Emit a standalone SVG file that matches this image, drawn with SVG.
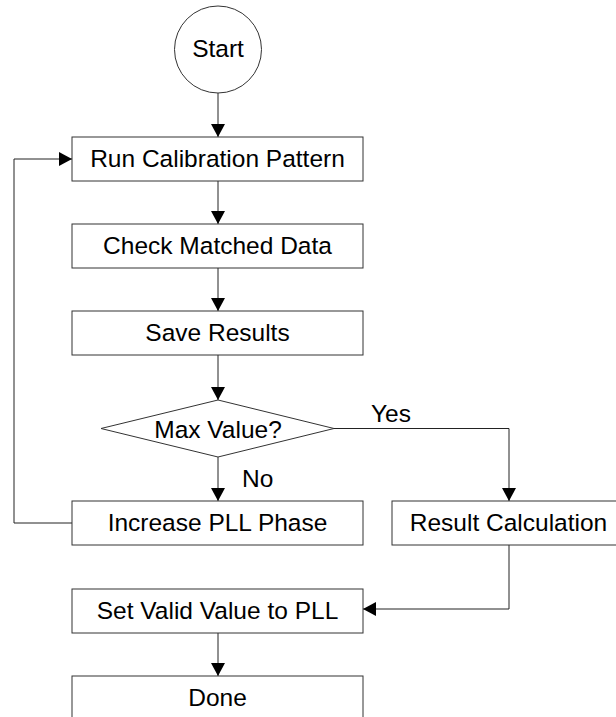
<svg xmlns="http://www.w3.org/2000/svg" width="616" height="717" viewBox="0 0 616 717">
<style>
.n{fill:#fff;stroke:#333;stroke-width:1}
.c{fill:none;stroke:#222;stroke-width:1}
text{font-family:"Liberation Sans",Arial,sans-serif;font-size:24.5px;fill:#000}
.m{text-anchor:middle}
</style>
<defs>
<marker id="ah" markerUnits="userSpaceOnUse" markerWidth="14" markerHeight="15" refX="13" refY="7" orient="auto">
<path d="M0,0 L13,7 L0,14 z" fill="#000"/>
</marker>
</defs>
<rect width="616" height="717" fill="#fff"/>
<g id="connectors">
<path class="c" d="M218,93 V137" marker-end="url(#ah)"/>
<path class="c" d="M218,181 V224" marker-end="url(#ah)"/>
<path class="c" d="M218,268 V311" marker-end="url(#ah)"/>
<path class="c" d="M218,355 V400" marker-end="url(#ah)"/>
<path class="c" d="M218,457 V501" marker-end="url(#ah)"/>
<path class="c" d="M334,428.5 H509 V501" marker-end="url(#ah)"/>
<path class="c" d="M72,523 H14 V159 H72" marker-end="url(#ah)"/>
<path class="c" d="M509,545 V609 H363" marker-end="url(#ah)"/>
<path class="c" d="M218,633 V676" marker-end="url(#ah)"/>
<text x="371" y="422">Yes</text>
<text x="242" y="487">No</text>
</g>
<g id="start">
<circle class="n" cx="218" cy="49.5" r="43.5"/>
<text class="m" x="218" y="57">Start</text>
</g>
<g id="run">
<rect class="n" x="72" y="137" width="291" height="44"/>
<text class="m" x="217.5" y="167">Run Calibration Pattern</text>
</g>
<g id="check">
<rect class="n" x="72" y="224" width="291" height="44"/>
<text class="m" x="217.5" y="254">Check Matched Data</text>
</g>
<g id="save">
<rect class="n" x="72" y="311" width="291" height="44"/>
<text class="m" x="217.5" y="341">Save Results</text>
</g>
<g id="max">
<polygon class="n" points="101,428.5 218,400 334,428.5 218,457"/>
<text class="m" x="218" y="438">Max Value?</text>
</g>
<g id="increase">
<rect class="n" x="72" y="501" width="291" height="44"/>
<text class="m" x="217.5" y="531">Increase PLL Phase</text>
</g>
<g id="result">
<rect class="n" x="392" y="501" width="233" height="44"/>
<text class="m" x="508.5" y="531">Result Calculation</text>
</g>
<g id="setvalid">
<rect class="n" x="72" y="589" width="291" height="44"/>
<text class="m" x="217.5" y="619">Set Valid Value to PLL</text>
</g>
<g id="done">
<rect class="n" x="72" y="676" width="291" height="44"/>
<text class="m" x="217.5" y="706">Done</text>
</g>
</svg>
